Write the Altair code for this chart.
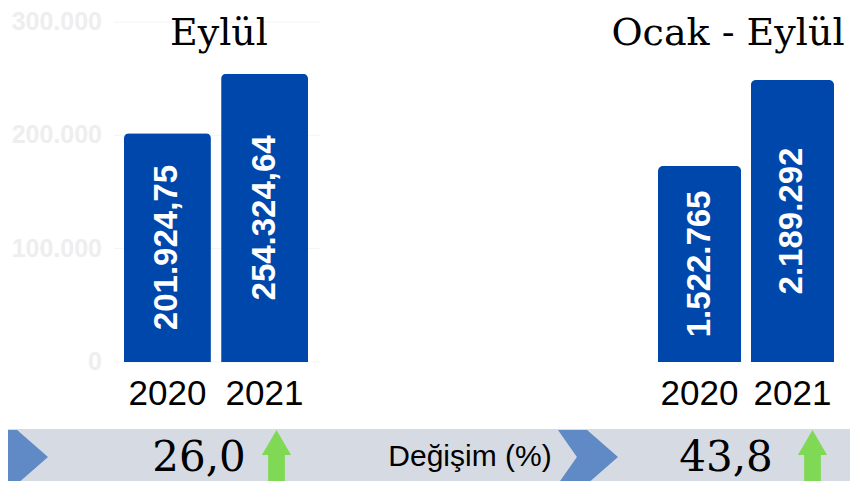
import altair as alt
import pandas as pd

# ---- data ----
years = ["2020", "2021"]
eylul_values = [201924.75, 254324.64]
eylul_labels = ["201.924,75", "254.324,64"]
ocak_eylul_values = [1522765, 2189292]
ocak_eylul_labels = ["1.522.765", "2.189.292"]
tick_values = [0, 100000, 200000, 300000]
tick_labels = ["0", "100.000", "200.000", "300.000"]
change_values = ["26,0", "43,8"]
panel_titles = ["Eylül", "Ocak - Eylül"]
change_title = "Değişim (%)"

BAR = "#0047AB"
BAND = "#d6dae3"
CHEV = "#5f8ac6"
GREEN = "#7fd955"
SERIF = "DejaVu Serif"
SANS = "Liberation Sans"

W, H = 842, 473

left_df = pd.DataFrame({"year": years, "value": eylul_values, "label": eylul_labels})
right_df = pd.DataFrame({"year": years, "value": ocak_eylul_values, "label": ocak_eylul_labels})
tick_df = pd.DataFrame({"tick": tick_values, "tlabel": tick_labels})


def panel(df, xrange, ymax, title, title_x, extra=None):
    xs = alt.Scale(domain=years, range=xrange, paddingInner=0.105, paddingOuter=0)
    ys = alt.Scale(domain=[0, ymax], range=[354, 14], nice=False, zero=True)
    base = alt.Chart(df)
    bars = base.mark_bar(color=BAR, cornerRadiusTopLeft=5, cornerRadiusTopRight=5).encode(
        x=alt.X("year:N", scale=xs, axis=None),
        y=alt.Y("value:Q", scale=ys, axis=None),
    )
    vlab = base.transform_calculate(mid="datum.value/2").mark_text(
        angle=270, align="center", baseline="middle", color="white",
        font=SANS, fontWeight="bold", fontSize=33,
    ).encode(
        x=alt.X("year:N", scale=xs, axis=None),
        y=alt.Y("mid:Q", scale=ys, axis=None),
        text="label:N",
    )
    ylab = base.mark_text(align="center", baseline="middle", color="black",
                          font=SANS, fontSize=35).encode(
        x=alt.X("year:N", scale=xs, axis=None),
        y=alt.value(386),
        text="year:N",
    )
    ttl = alt.Chart(pd.DataFrame({"t": [title]})).mark_text(
        align="center", baseline="alphabetic", font=SERIF, fontSize=38, color="black"
    ).encode(x=alt.value(title_x), y=alt.value(37), text="t:N")
    layers = []
    if extra is not None:
        layers += extra(ys)
    layers += [bars, vlab, ylab, ttl]
    return alt.layer(*layers)


def left_axis(ys):
    grid = alt.Chart(tick_df).mark_rule(color="#f4f4f4", strokeWidth=1).encode(
        y=alt.Y("tick:Q", scale=ys, axis=None),
        x=alt.value(106), x2=alt.value(312),
    )
    labs = alt.Chart(tick_df).mark_text(
        align="right", baseline="middle", font=SANS, fontWeight="bold",
        fontSize=25, color="#eeeeee",
    ).encode(
        y=alt.Y("tick:Q", scale=ys, axis=None),
        x=alt.value(94),
        text="tlabel:N",
    )
    return [grid, labs]


left = panel(left_df, [116, 300], 300000, panel_titles[0], 211, extra=left_axis)
right = panel(right_df, [650, 826], 2640000, panel_titles[1], 720)

# ---- bottom band ----
one = pd.DataFrame({"k": [0]})
band = alt.Chart(one).mark_rect(color=BAND).encode(
    x=alt.value(0), x2=alt.value(W), y=alt.value(421), y2=alt.value(476)
)
chevron_path = "M-1,-0.9 L-0.03,-0.9 L1,0 L-0.03,0.9 L-1,0.9 L-0.37,0 Z"
arrow_path = "M0,-1 L0.54,-0.07 L0.31,-0.07 L0.31,1 L-0.31,1 L-0.31,-0.07 L-0.54,-0.07 Z"

chev1 = alt.Chart(one).mark_point(shape=chevron_path, filled=True, color=CHEV, opacity=1, size=3600).encode(
    x=alt.value(10), y=alt.value(449))
chev2 = alt.Chart(one).mark_point(shape=chevron_path, filled=True, color=CHEV, opacity=1, size=3600).encode(
    x=alt.value(580), y=alt.value(449))
arr1 = alt.Chart(one).mark_point(shape=arrow_path, filled=True, color=GREEN, opacity=1, size=2916).encode(
    x=alt.value(268.5), y=alt.value(449))
arr2 = alt.Chart(one).mark_point(shape=arrow_path, filled=True, color=GREEN, opacity=1, size=2916).encode(
    x=alt.value(804.5), y=alt.value(449))

chg1 = alt.Chart(pd.DataFrame({"v": [change_values[0]]})).mark_text(
    align="center", baseline="middle", font=SERIF, fontSize=42, color="black"
).encode(x=alt.value(191), y=alt.value(450), text="v:N")
chg2 = alt.Chart(pd.DataFrame({"v": [change_values[1]]})).mark_text(
    align="center", baseline="middle", font=SERIF, fontSize=42, color="black"
).encode(x=alt.value(718), y=alt.value(450), text="v:N")
chg_title = alt.Chart(pd.DataFrame({"v": [change_title]})).mark_text(
    align="center", baseline="middle", font=SANS, fontSize=30, color="black"
).encode(x=alt.value(462), y=alt.value(449), text="v:N")

decor = alt.layer(band, chev1, chev2, arr1, arr2, chg1, chg2, chg_title)

chart = alt.layer(left, right, decor).resolve_scale(
    x="independent", y="independent"
).properties(
    width=W, height=H, padding=0, autosize=alt.AutoSizeParams(type="none"),
    background="white",
).configure_view(stroke=None)

chart.save("out.html", embed_options={"renderer": "svg", "actions": False})
